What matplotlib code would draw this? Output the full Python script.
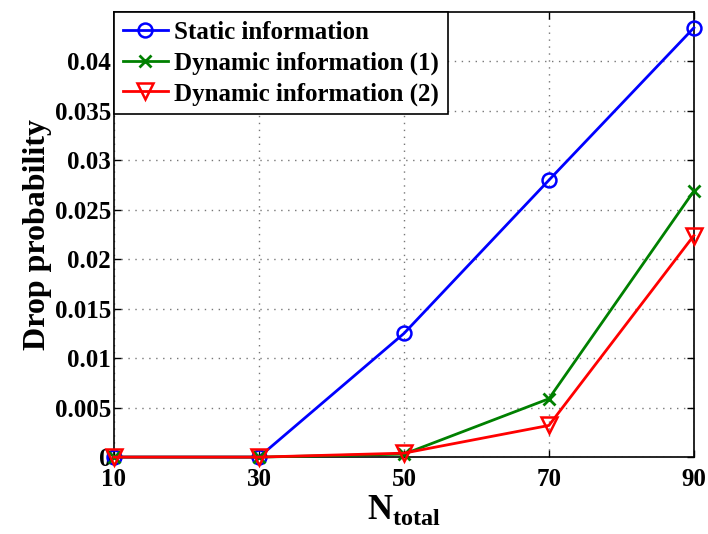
import matplotlib.pyplot as plt
import numpy as np

n_total = [10, 30, 50, 70, 90]
static_info = [0, 0, 0.0125, 0.0280, 0.0434]
dynamic_1 = [0, 0, 0.0003, 0.0059, 0.0269]
dynamic_2 = [0, 0, 0.0004, 0.0032, 0.0224]

plt.rcParams['font.family'] = 'Liberation Serif'
plt.rcParams['font.weight'] = 'bold'
plt.rcParams['mathtext.fontset'] = 'custom'
plt.rcParams['mathtext.bf'] = 'Liberation Serif:bold'
plt.rcParams['mathtext.rm'] = 'Liberation Serif:bold'

fig = plt.figure(figsize=(7.08, 5.34), dpi=100)
ax = fig.add_axes([0.161, 0.144, 0.819, 0.8335])

ax.plot(n_total, static_info, color='blue', marker='o', markersize=10,
        markerfacecolor='none', markeredgewidth=1.8, linewidth=2,
        label='Static information', clip_on=False, zorder=3)
ax.plot(n_total, dynamic_1, color='green', marker='x', markersize=8,
        markeredgewidth=2, linewidth=2,
        label='Dynamic information (1)', clip_on=False, zorder=3)
ax.plot(n_total, dynamic_2, color='red', marker='v', markersize=12,
        markerfacecolor='none', markeredgewidth=1.8, linewidth=2,
        label='Dynamic information (2)', clip_on=False, zorder=3)

ax.set_xlim(10, 90)
ax.set_ylim(0, 0.045)
ax.set_xticks(n_total)
ax.set_yticks(np.arange(0, 0.0401, 0.005))
ax.set_yticklabels(['0', '0.005', '0.01', '0.015', '0.02', '0.025',
                    '0.03', '0.035', '0.04'])
ax.tick_params(direction='in', top=True, right=True, labelsize=18,
               length=5, width=1, pad=2)
ax.tick_params(axis='x', pad=8)
ax.grid(True, linestyle=(0, (1, 4)), color='#777777', linewidth=1)
for s in ax.spines.values():
    s.set_linewidth(1.2)

ax.set_xlabel(r'N$_{\mathbf{total}}$', fontsize=25, fontweight='bold',
              labelpad=1)
ax.set_ylabel('Drop probability', fontsize=23, fontweight='bold',
              labelpad=2)

leg = ax.legend(loc='upper left', fontsize=18, frameon=True, fancybox=False,
                edgecolor='black', framealpha=1, borderaxespad=0,
                handlelength=1.8, handletextpad=0.25, labelspacing=0.3,
                borderpad=0.35)
leg.get_frame().set_linewidth(1.2)

fig.savefig('out.png', dpi=100)
